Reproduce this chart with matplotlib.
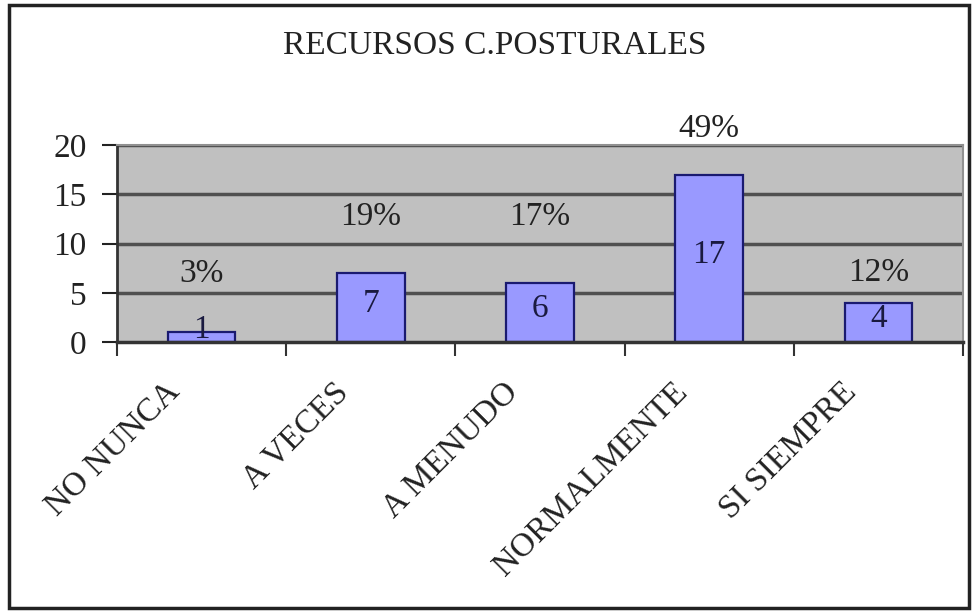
import matplotlib.pyplot as plt
from matplotlib.patches import Rectangle
from matplotlib.transforms import ScaledTranslation

# datos del grafico
categorias = ["NO NUNCA", "A VECES", "A MENUDO", "NORMALMENTE", "SI SIEMPRE"]
valores = [1, 7, 6, 17, 4]
porcentajes = ["3%", "19%", "17%", "49%", "12%"]
titulo = "RECURSOS C.POSTURALES"

# altura (en unidades del eje) donde va cada etiqueta de porcentaje
altura_pct = [6.9, 12.7, 12.7, 21.7, 7.05]

plt.rcParams['font.family'] = ['Liberation Serif', 'DejaVu Serif']

fig = plt.figure(figsize=(9.76, 6.13), dpi=100)
fig.patch.set_facecolor("white")

# marco exterior
fig.add_artist(Rectangle((0.009, 0.008), 0.984, 0.984, transform=fig.transFigure,
                         fill=False, edgecolor="#222222", linewidth=2.5))

ax = fig.add_axes([0.1199, 0.442, 0.8668, 0.3214])
ax.set_facecolor("#C0C0C0")

x = list(range(len(categorias)))
ax.bar(x, valores, width=0.4, color="#9999FF", edgecolor="#1a1a70",
       linewidth=1.6, zorder=3)

# lineas de cuadricula
for yv in [5, 10, 15, 20]:
    ax.axhline(yv, color="#505050", linewidth=2.5, zorder=2)

ax.set_xlim(-0.5, len(categorias) - 0.5)
ax.set_ylim(0, 20)
ax.set_yticks([0, 5, 10, 15, 20])
ax.tick_params(axis="y", labelsize=24, length=11, width=1.5, pad=11, colors="#222222")

# ticks entre categorias y etiquetas centradas
ax.set_xticks([i - 0.5 for i in range(len(categorias) + 1)])
ax.set_xticklabels([])
ax.tick_params(axis="x", which="major", length=10, width=1.5, colors="#333333")
ax.set_xticks(x, minor=True)
ax.set_xticklabels(categorias, minor=True, rotation=45, ha="right", va="top",
                   fontsize=24, color="#222222")
ax.tick_params(axis="x", which="minor", length=0, pad=25)
desplaza = ScaledTranslation(-0.16, 0, fig.dpi_scale_trans)
for lab in ax.get_xticklabels(minor=True):
    lab.set_transform(lab.get_transform() + desplaza)

for s in ["top", "right"]:
    ax.spines[s].set_color("#909090")
    ax.spines[s].set_linewidth(1.5)
ax.spines["left"].set_color("#333333")
ax.spines["left"].set_linewidth(2)
ax.spines["bottom"].set_color("#333333")
ax.spines["bottom"].set_linewidth(2.5)
ax.spines["bottom"].set_zorder(4)

# etiquetas de valores y porcentajes
for xi, v, p, hp in zip(x, valores, porcentajes, altura_pct):
    ax.text(xi, max(v / 2 + 0.4, 1.2), str(v), ha="center", va="center",
            fontsize=24, color="#1a1a40", zorder=5)
    ax.text(xi, hp, p, ha="center", va="center", fontsize=24,
            color="#222222", clip_on=False, zorder=5)

fig.text(0.507, 0.925, titulo, ha="center", va="center", fontsize=24,
         color="#222222")

fig.savefig("out.png", dpi=100)
